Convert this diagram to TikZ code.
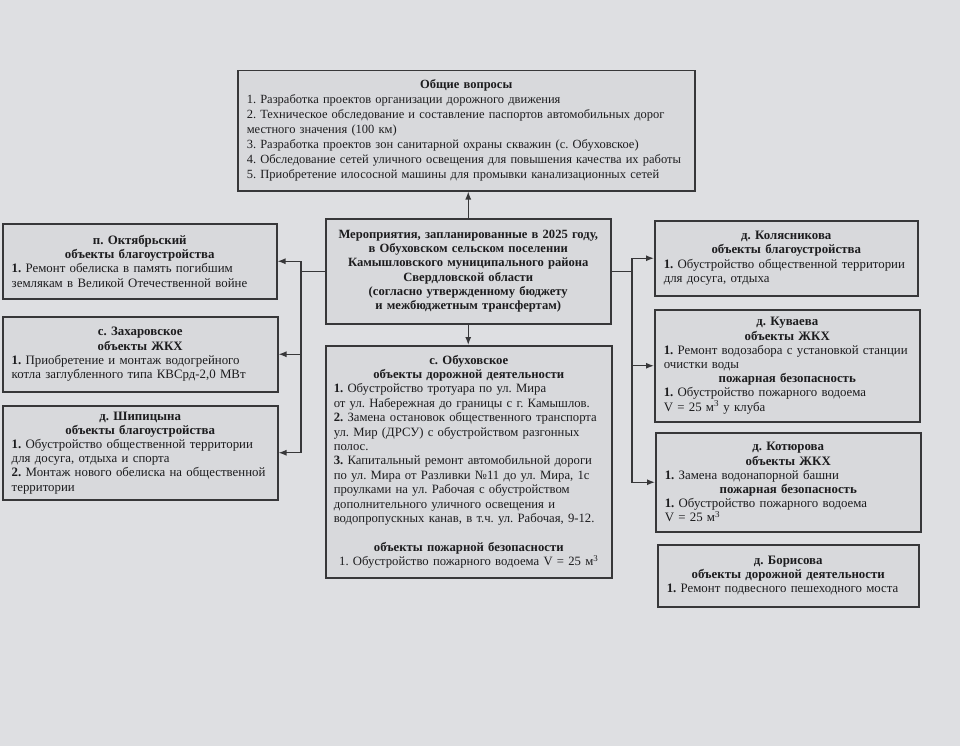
\documentclass[tikz,border=0pt]{standalone}
\usepackage{fontspec}
\setmainfont{Liberation Serif}
\usetikzlibrary{arrows.meta}
\definecolor{bgc}{RGB}{222,223,226}
\definecolor{boxc}{RGB}{216,217,220}
\definecolor{bordc}{RGB}{55,55,57}
\definecolor{txtc}{RGB}{28,28,30}
\newcommand{\ttl}[1]{{\centering\bfseries #1\par}}
\tolerance=9999
\emergencystretch=3em
\hyphenpenalty=10000
\frenchspacing
\begin{document}
\begin{tikzpicture}[x=1pt,y=-1pt,
  box/.style={draw=bordc, line width=1.5pt, fill=boxc, anchor=north west,
    inner xsep=9pt, inner ysep=3pt, text=txtc,
    font=\fontsize{12.85}{14.2}\selectfont},
  conn/.style={draw=bordc, line width=1.2pt},
  arr/.style={conn, -{Latex[length=8pt,width=6pt]}}]
\useasboundingbox (0,0) rectangle (960,746);
\fill[bgc] (0,0) rectangle (960,746);

\node[box, text width=439pt, minimum height=120pt, font=\fontsize{12.5}{15}\selectfont] (top) at (237,70) {%
\ttl{Общие вопросы}
1. Разработка проектов организации дорожного движения\par
2. Техническое обследование и составление паспортов автомобильных дорог\linebreak местного значения (100 км)\par
3. Разработка проектов зон санитарной охраны скважин (с. Обуховское)\par
4. Обследование сетей уличного освещения для повышения качества их работы\par
5. Приобретение илососной машины для промывки канализационных сетей\par};

\node[box, inner xsep=6pt, text width=273pt, minimum height=105pt, align=center, font=\fontsize{12.6}{14.2}\selectfont\bfseries] (c) at (325,218) {%
Мероприятия, запланированные в 2025 году,\\
в Обуховском сельском поселении\\
Камышловского муниципального района\\
Свердловской области\\
(согласно утвержденному бюджету\\
и межбюджетным трансфертам)};

\node[box, inner xsep=8pt, text width=270pt, minimum height=232pt, font=\fontsize{12.7}{14.4}\selectfont] (ob) at (325,345) {%
\ttl{с. Обуховское\\объекты дорожной деятельности}
\textbf{1.} Обустройство тротуара по ул. Мира\\
от ул. Набережная до границы с г. Камышлов.\par
\textbf{2.} Замена остановок общественного транспорта\linebreak ул. Мир (ДРСУ) с обустройством разгонных\linebreak полос.\par
\textbf{3.} Капитальный ремонт автомобильной дороги\linebreak по ул. Мира от Разливки №11 до ул. Мира, 1с\linebreak проулками на ул. Рабочая с обустройством\linebreak дополнительного уличного освещения и\linebreak водопропускных канав, в т.ч. ул. Рабочая, 9-12.\par
\vspace{14.4pt}
\ttl{объекты пожарной безопасности}
{\centering 1. Обустройство пожарного водоема V = 25 м\textsuperscript{3}\par}};

\node[box, text width=256pt, minimum height=75pt] (l1) at (2,223) {%
\ttl{п. Октябрьский\\объекты благоустройства}
\textbf{1.} Ремонт обелиска в память погибшим\linebreak землякам в Великой Отечественной войне};

\node[box, text width=257pt, minimum height=75pt] (l2) at (2,316) {%
\ttl{с. Захаровское\\объекты ЖКХ}
\textbf{1.} Приобретение и монтаж водогрейного\linebreak котла заглубленного типа КВСрд-2,0 МВт};

\node[box, text width=257pt, minimum height=94pt] (l3) at (2,405) {%
\ttl{д. Шипицына\\объекты благоустройства}
\textbf{1.} Обустройство общественной территории\linebreak для досуга, отдыха и спорта\par
\textbf{2.} Монтаж нового обелиска на общественной\linebreak территории};

\node[box, text width=245pt, minimum height=75pt] (r1) at (654,220) {%
\ttl{д. Колясникова\\объекты благоустройства}
\textbf{1.} Обустройство общественной территории\linebreak для досуга, отдыха};

\node[box, text width=247pt, minimum height=112pt] (r2) at (654,309) {%
\ttl{д. Куваева\\объекты ЖКХ}
\textbf{1.} Ремонт водозабора с установкой станции\linebreak очистки воды\par
\ttl{пожарная безопасность}
\textbf{1.} Обустройство пожарного водоема\\
V = 25 м\textsuperscript{3} у клуба};

\node[box, text width=247pt, minimum height=99pt] (r3) at (655,432) {%
\ttl{д. Котюрова\\объекты ЖКХ}
\textbf{1.} Замена водонапорной башни\par
\ttl{пожарная безопасность}
\textbf{1.} Обустройство пожарного водоема\\
V = 25 м\textsuperscript{3}};

\node[box, text width=243pt, minimum height=62pt] (r4) at (657,544) {%
\ttl{д. Борисова\\объекты дорожной деятельности}
\textbf{1.} Ремонт подвесного пешеходного моста};

% connectors
\coordinate (lb) at (301,0);
\coordinate (rb) at (632,0);
\draw[arr] (c.north) -- (c.north |- top.south);
\draw[arr] (c.south) -- (c.south |- ob.north);
\draw[conn] (c.west) -- (c.west -| lb);
\draw[arr] (c.west -| lb) |- (l1.east);
\draw[arr] (c.west -| lb) |- (l2.east);
\draw[arr] (c.west -| lb) |- (l3.east);
\draw[conn] (c.east) -- (c.east -| rb);
\draw[arr] (c.east -| rb) |- (r1.west);
\draw[arr] (c.east -| rb) |- (r2.west);
\draw[arr] (c.east -| rb) |- (r3.west);
\end{tikzpicture}
\end{document}
